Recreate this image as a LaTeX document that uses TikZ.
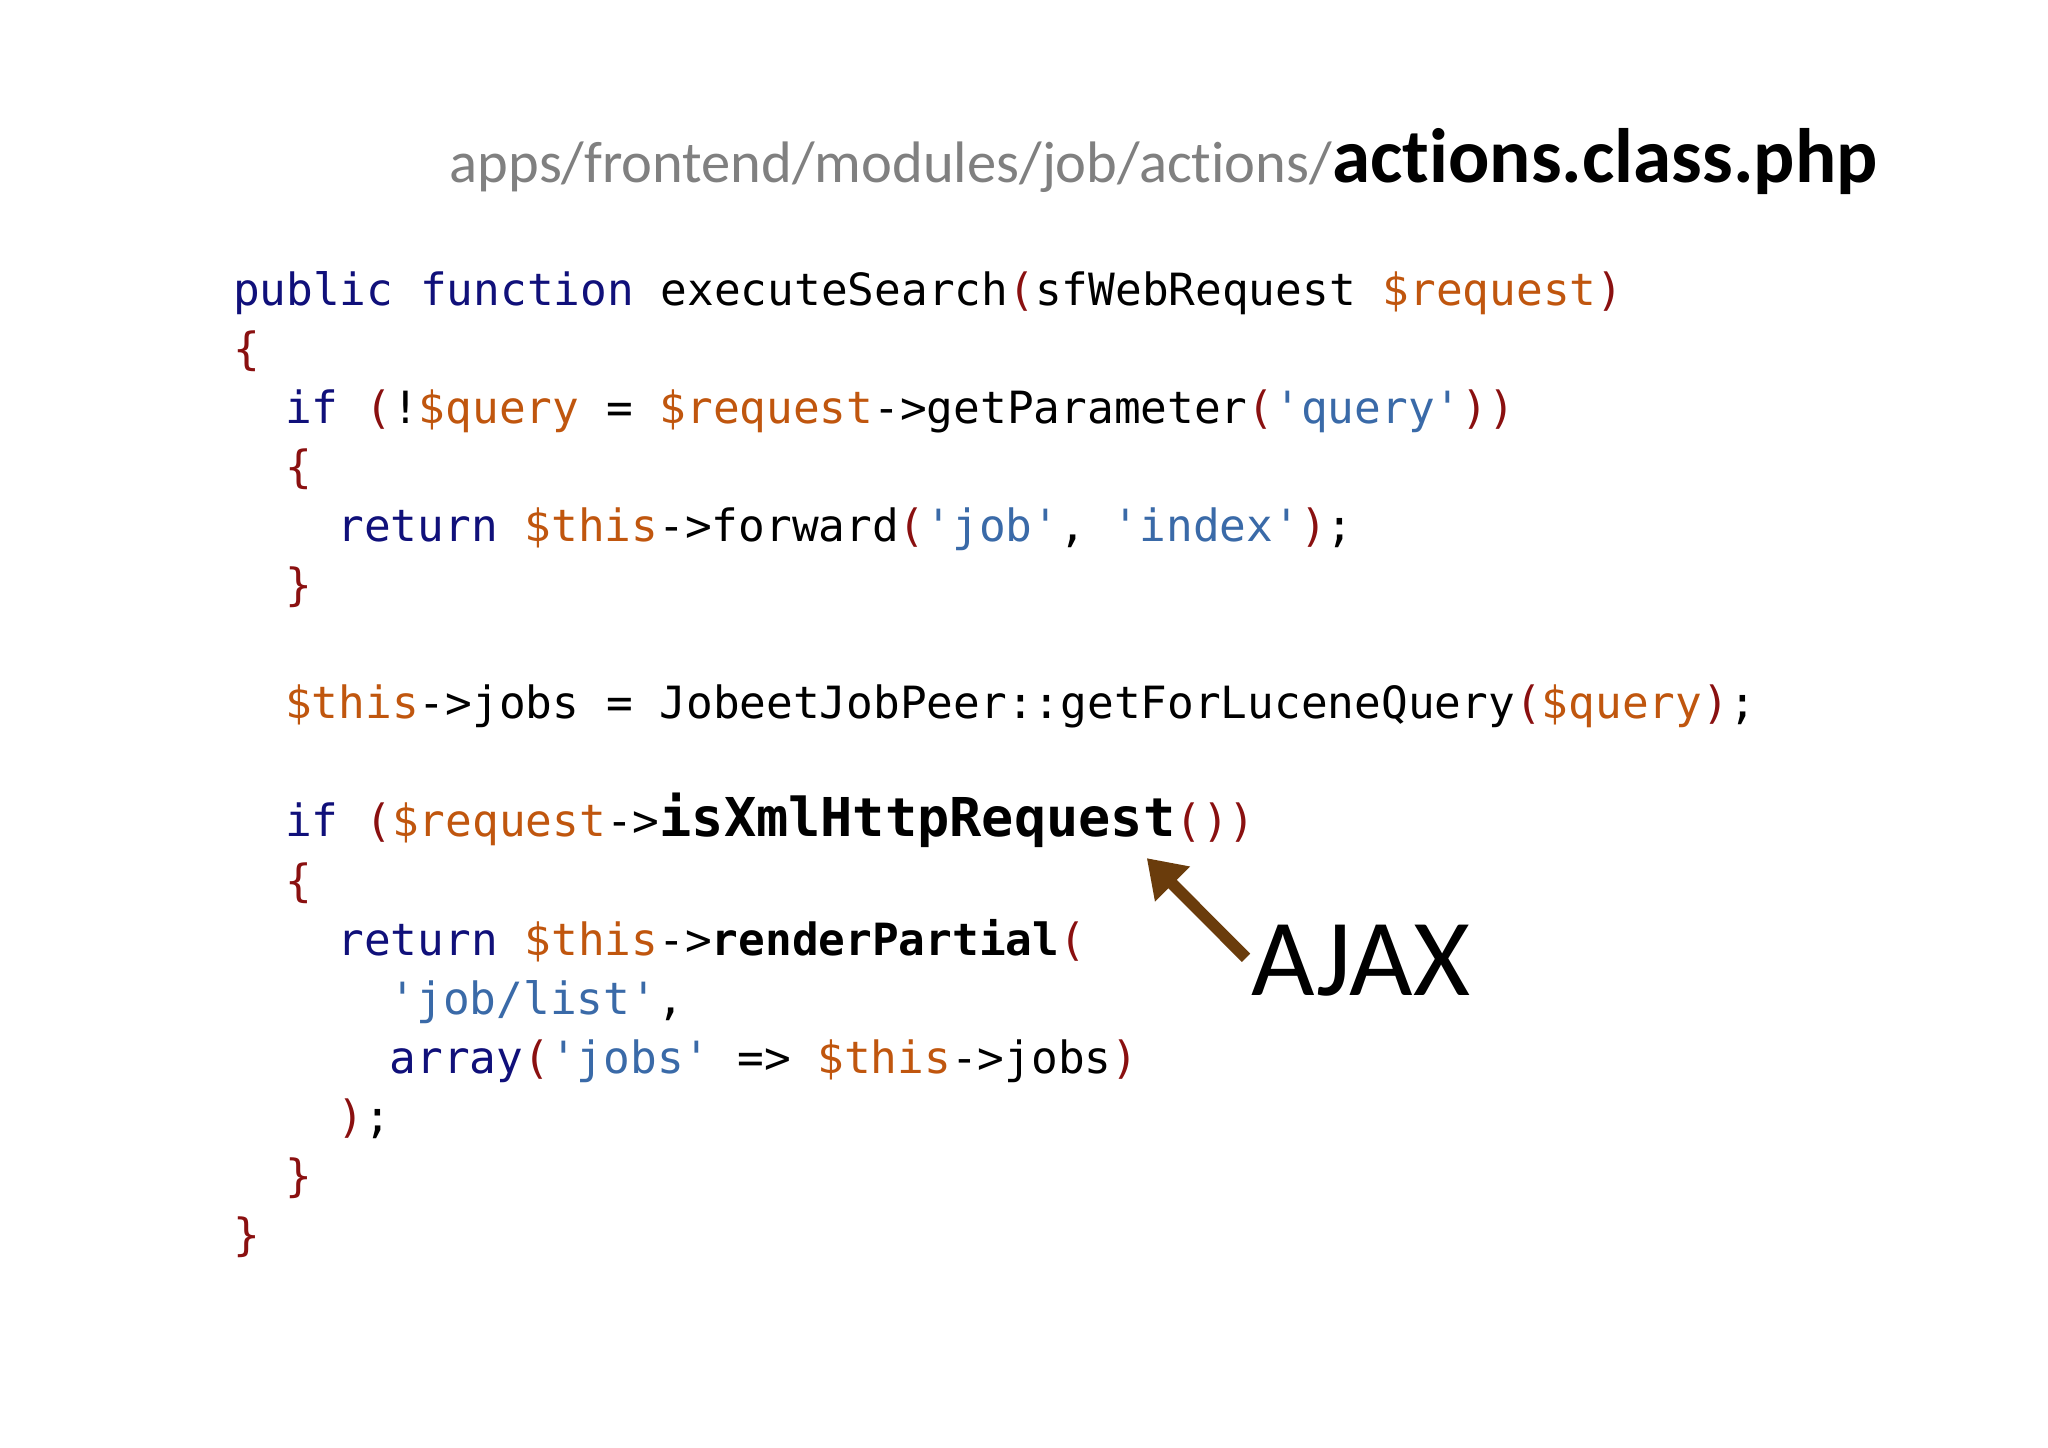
\documentclass[tikz,border=0pt]{standalone}
\usepackage{fontspec}
\setmainfont[Ligatures=NoCommon]{Carlito}
\setmonofont{DejaVu Sans Mono}
\usetikzlibrary{arrows.meta}
\definecolor{kw}{HTML}{10107A}
\definecolor{vr}{HTML}{C0560E}
\definecolor{st}{HTML}{3A6AA8}
\definecolor{pa}{HTML}{8A1010}
\definecolor{ttl}{HTML}{808080}
\definecolor{arr}{HTML}{6A3C0C}
\newcommand{\K}[1]{\textcolor{kw}{#1}}
\newcommand{\V}[1]{\textcolor{vr}{#1}}
\newcommand{\Sq}[1]{\textcolor{st}{#1}}
\newcommand{\Pa}[1]{\textcolor{pa}{#1}}
\tikzset{codeline/.style={anchor=base west,inner sep=0pt,font=\fontsize{17}{20}\ttfamily}}
\begin{document}
\begin{tikzpicture}[x=0.5pt,y=-0.5pt]
\useasboundingbox[fill=white] (0,0) rectangle (1568,1108);
\node[anchor=base west,inner sep=0pt,font=\fontsize{22.4}{26}\selectfont] (title) at (344,140) {\textcolor{ttl}{apps/frontend/modules/job/actions/}\textbf{\fontsize{29.5}{32}\selectfont actions.class.php}};
\def\dy{45.2}
\def\y0{234}
\node[codeline] (l1) at (178,\y0) {\K{public function} executeSearch\Pa{(}sfWebRequest \V{\$request}\Pa{)}};
\node[codeline] (l2) at (178,\y0+1*\dy) {\Pa{\{}};
\node[codeline] (l3) at (218,\y0+2*\dy) {\K{if} \Pa{(}!\V{\$query} = \V{\$request}->getParameter\Pa{(}\Sq{'query'}\Pa{))}};
\node[codeline] (l4) at (218,\y0+3*\dy) {\Pa{\{}};
\node[codeline] (l5) at (258,\y0+4*\dy) {\K{return} \V{\$this}->forward\Pa{(}\Sq{'job'}, \Sq{'index'}\Pa{)};};
\node[codeline] (l6) at (218,\y0+5*\dy) {\Pa{\}}};
\node[codeline] (l8) at (218,\y0+7*\dy) {\V{\$this}->jobs = JobeetJobPeer::getForLuceneQuery\Pa{(}\V{\$query}\Pa{)};};
\node[codeline] (l10) at (218,\y0+9*\dy) {\K{if} \Pa{(}\V{\$request}->\textbf{\fontsize{20.5}{20}\selectfont isXmlHttpRequest}\Pa{())}};
\node[codeline] (l11) at (218,\y0+10*\dy) {\Pa{\{}};
\node[codeline] (l12) at (258,\y0+11*\dy) {\K{return} \V{\$this}->\textbf{renderPartial}\Pa{(}};
\node[codeline] (l13) at (298,\y0+12*\dy) {\Sq{'job/list'},};
\node[codeline] (l14) at (298,\y0+13*\dy) {\K{array}\Pa{(}\Sq{'jobs'} => \V{\$this}->jobs\Pa{)}};
\node[codeline] (l15) at (258,\y0+14*\dy) {\Pa{)};};
\node[codeline] (l16) at (218,\y0+15*\dy) {\Pa{\}}};
\node[codeline] (l17) at (178,\y0+16*\dy) {\Pa{\}}};
\node[anchor=base west,inner sep=0pt,font=\fontsize{42}{50}\selectfont] (ajax) at (958,762) {AJAX};
\coordinate (tip) at (878,657);
\draw[arr,line width=4.5pt,-{Triangle[width=18pt,length=14pt]}] (ajax.west)++(-4,-2) -- (tip);
\end{tikzpicture}
\end{document}
